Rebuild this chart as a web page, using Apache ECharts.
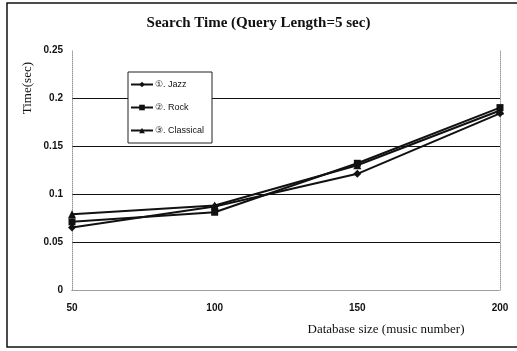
<!DOCTYPE html>
<html>
<head>
<meta charset="utf-8">
<script src="https://cdn.jsdelivr.net/npm/echarts@6/dist/echarts.min.js"></script>
<style>
  html, body { margin: 0; padding: 0; background: #fff; }
  #main { width: 517px; height: 351px; }
</style>
</head>
<body>
<div id="main"></div>
<script>
// database sizes (music number)
const sizes = [50, 100, 150, 200];
// search time in sec
const jazz = [0.065, 0.087, 0.121, 0.184];
const rock = [0.071, 0.081, 0.132, 0.190];
const classical = [0.079, 0.088, 0.130, 0.187];
const seriesNames = ['\u2460. Jazz', '\u2461. Rock', '\u2462. Classical'];

const pairs = arr => sizes.map((s, i) => [s, arr[i]]);

const mkSeries = (name, data, symbol, size) => ({
  name: name,
  type: 'line',
  data: pairs(data),
  symbol: symbol,
  symbolSize: size,
  showSymbol: true,
  lineStyle: { color: '#111', width: 2 },
  itemStyle: { color: '#111' },
  animation: false
});

const chart = echarts.init(document.getElementById('main'));

const dotted = { show: true, lineStyle: { color: '#999', type: 'dotted', width: 1 } };

chart.setOption({
  backgroundColor: '#fff',
  title: {
    text: 'Search Time (Query Length=5 sec)',
    left: 'center',
    top: 11,
    textStyle: { fontFamily: 'Liberation Serif', fontWeight: 'bold', fontSize: 15, color: '#111' }
  },
  legend: {
    orient: 'vertical',
    left: 128,
    top: 72,
    padding: [8, 8, 8, 2],
    itemGap: 14,
    itemWidth: 22,
    itemHeight: 7,
    borderColor: '#222',
    borderWidth: 1,
    backgroundColor: '#fff',
    data: seriesNames,
    textStyle: { fontFamily: 'Liberation Sans', fontSize: 9, color: '#111', padding: [0, 0, 0, -3] }
  },
  grid: { left: 72, right: 17, top: 50, bottom: 61 },
  xAxis: [{
    type: 'value',
    min: 50, max: 200, interval: 50,
    name: 'Database size (music number)',
    nameLocation: 'middle',
    nameGap: 33,
    nameTextStyle: { fontFamily: 'Liberation Serif', fontSize: 13, color: '#111', padding: [0, 0, 0, 200] },
    axisLine: dotted,
    axisTick: { show: false },
    splitLine: { show: false },
    axisLabel: { fontFamily: 'Liberation Sans', fontWeight: 'bold', fontSize: 10, color: '#111', margin: 13 }
  }, {
    type: 'value',
    position: 'top',
    min: 50, max: 200,
    axisLine: dotted,
    axisTick: { show: false },
    axisLabel: { show: false },
    splitLine: { show: false }
  }],
  yAxis: [{
    type: 'value',
    min: 0, max: 0.25, interval: 0.05,
    name: 'Time(sec)',
    nameLocation: 'end',
    nameRotate: 90,
    nameGap: 0,
    nameTextStyle: { fontFamily: 'Liberation Serif', fontSize: 13, color: '#111', align: 'right', verticalAlign: 'bottom', padding: [0, 12, 38, 0] },
    axisLine: dotted,
    axisTick: { show: false },
    axisLabel: {
      fontFamily: 'Liberation Sans', fontWeight: 'bold', fontSize: 10, color: '#111', margin: 9,
      formatter: v => String(+v.toFixed(2))
    },
    splitLine: {
      show: true,
      lineStyle: { color: ['transparent', '#111', '#111', '#111', '#111', 'transparent'], width: 1 }
    }
  }, {
    type: 'value',
    position: 'right',
    min: 0, max: 0.25,
    axisLine: dotted,
    axisTick: { show: false },
    axisLabel: { show: false },
    splitLine: { show: false }
  }],
  graphic: [{
    type: 'rect',
    shape: { x: 7, y: 3, width: 520, height: 344 },
    style: { fill: 'none', stroke: '#111', lineWidth: 1.5 },
    z: 100
  }],
  series: [
    mkSeries(seriesNames[0], jazz, 'diamond', 8),
    mkSeries(seriesNames[1], rock, 'rect', 7),
    mkSeries(seriesNames[2], classical, 'triangle', 8)
  ]
});
</script>
</body>
</html>
